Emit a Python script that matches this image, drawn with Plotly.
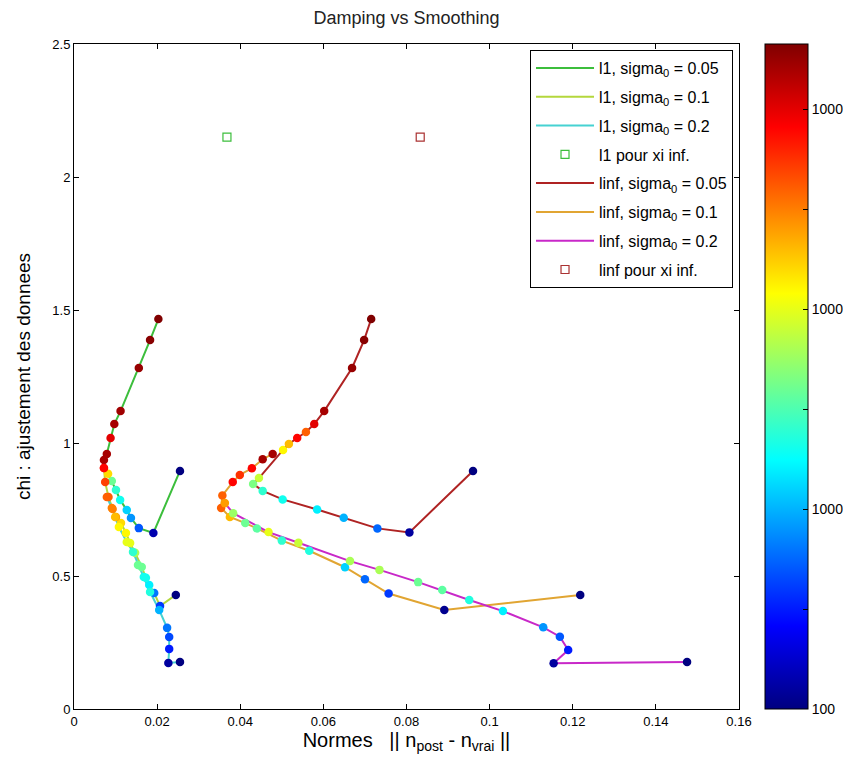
import plotly.graph_objects as go

# ---------------- data ----------------
l1_005_x = [0.0255, 0.0191, 0.0156, 0.0137, 0.0127, 0.0111, 0.0101, 0.0091, 0.0082, 0.0072, 0.0072, 0.0079, 0.0088, 0.0097, 0.0112, 0.0156, 0.0183, 0.0203]
l1_005_y = [0.895, 0.662, 0.680, 0.718, 0.748, 0.786, 0.823, 0.857, 0.884, 0.906, 0.936, 0.959, 1.019, 1.071, 1.120, 1.282, 1.387, 1.466]
l1_005_c = [2.0, 2.15, 2.7, 2.9, 3.1, 3.3, 3.4, 3.6, 4.2, 4.8, 5.2, 5.2, 5.0, 5.2, 5.22, 5.25, 5.3, 5.33]

l1_01_x = [0.0245, 0.0207, 0.0193, 0.0181, 0.0173, 0.0163, 0.0147, 0.0135, 0.0125, 0.0113, 0.0101, 0.0093, 0.0083, 0.0075, 0.0072]
l1_01_y = [0.429, 0.387, 0.436, 0.466, 0.493, 0.534, 0.587, 0.624, 0.662, 0.699, 0.722, 0.752, 0.797, 0.853, 0.906]
l1_01_c = [2.0, 2.6, 2.8, 3.2, 3.3, 3.6, 3.8, 4.0, 4.1, 4.2, 4.4, 4.5, 4.6, 4.7, 4.9]

l1_02_x = [0.0255, 0.0227, 0.0229, 0.0229, 0.0224, 0.0205, 0.0183, 0.0168, 0.0154, 0.0142, 0.0127, 0.0108, 0.0099, 0.0091, 0.0079]
l1_02_y = [0.177, 0.173, 0.226, 0.271, 0.305, 0.372, 0.440, 0.496, 0.541, 0.590, 0.628, 0.684, 0.722, 0.756, 0.797]
l1_02_c = [2.0, 2.1, 2.5, 2.65, 2.8, 3.0, 3.35, 3.3, 3.6, 3.4, 4.0, 4.1, 4.3, 4.5, 4.6]

linf_005_x = [0.0960, 0.0807, 0.0730, 0.0649, 0.0585, 0.0502, 0.0454, 0.0431, 0.0445, 0.0503, 0.0517, 0.0537, 0.0558, 0.0578, 0.0602, 0.0669, 0.0698, 0.0715]
linf_005_y = [0.895, 0.664, 0.679, 0.719, 0.750, 0.788, 0.820, 0.846, 0.868, 0.974, 0.996, 1.019, 1.041, 1.071, 1.120, 1.282, 1.387, 1.466]
linf_005_c = [2.0, 2.1, 2.75, 3.0, 3.2, 3.3, 3.4, 3.65, 3.9, 4.1, 4.3, 4.9, 4.6, 5.0, 5.2, 5.25, 5.3, 5.33]

linf_01_x = [0.1218, 0.0891, 0.0757, 0.0700, 0.0652, 0.0566, 0.0500, 0.0440, 0.0412, 0.0375, 0.0354, 0.0357, 0.0382, 0.0399, 0.0428, 0.0454, 0.0478]
linf_01_y = [0.429, 0.372, 0.434, 0.488, 0.533, 0.595, 0.633, 0.679, 0.699, 0.722, 0.756, 0.803, 0.853, 0.880, 0.905, 0.939, 0.959]
linf_01_c = [2.0, 2.05, 2.6, 2.75, 3.1, 3.35, 3.4, 3.55, 3.6, 4.3, 4.6, 4.6, 4.9, 4.75, 4.9, 5.2, 5.2]

linf_02_x = [0.1475, 0.1154, 0.1189, 0.1169, 0.1129, 0.1032, 0.0951, 0.0886, 0.0828, 0.0735, 0.0664, 0.0540, 0.0468, 0.0383, 0.0363]
linf_02_y = [0.177, 0.172, 0.222, 0.272, 0.307, 0.368, 0.410, 0.447, 0.477, 0.523, 0.556, 0.625, 0.665, 0.736, 0.774]
linf_02_c = [2.0, 2.1, 2.5, 2.7, 2.9, 3.2, 3.35, 3.55, 3.6, 3.8, 3.8, 3.9, 4.0, 3.75, 4.4]

inf_l1_x = [0.0368]
inf_l1_y = [2.15]
inf_linf_x = [0.0833]
inf_linf_y = [2.15]

x_ticks = [0, 0.02, 0.04, 0.06, 0.08, 0.1, 0.12, 0.14, 0.16]
x_ticktext = ["0", "0.02", "0.04", "0.06", "0.08", "0.1", "0.12", "0.14", "0.16"]
y_ticks = [0, 0.5, 1, 1.5, 2, 2.5]
y_ticktext = ["0", "0.5", "1", "1.5", "2", "2.5"]
cb_ticks = [2, 2.5, 3, 3.5, 4, 4.5, 5]
cb_ticktext = ["100", "", "1000", "", "10000", "", "100000"]
c_min, c_max = 2.0, 5.325

# ---------------- styling ----------------
jet = [[0.0, "rgb(0,0,128)"], [0.125, "rgb(0,0,255)"], [0.375, "rgb(0,255,255)"],
       [0.625, "rgb(255,255,0)"], [0.875, "rgb(255,0,0)"], [1.0, "rgb(128,0,0)"]]
FONT = "Liberation Sans, Arial, Helvetica, sans-serif"

series = [
    ("l1, sigma<sub>0</sub> = 0.05", l1_005_x, l1_005_y, l1_005_c, "rgb(60,190,60)"),
    ("l1, sigma<sub>0</sub> = 0.1", l1_01_x, l1_01_y, l1_01_c, "rgb(180,215,60)"),
    ("l1, sigma<sub>0</sub> = 0.2", l1_02_x, l1_02_y, l1_02_c, "rgb(70,210,210)"),
    ("linf, sigma<sub>0</sub> = 0.05", linf_005_x, linf_005_y, linf_005_c, "rgb(175,35,35)"),
    ("linf, sigma<sub>0</sub> = 0.1", linf_01_x, linf_01_y, linf_01_c, "rgb(225,165,50)"),
    ("linf, sigma<sub>0</sub> = 0.2", linf_02_x, linf_02_y, linf_02_c, "rgb(200,40,200)"),
]

fig = go.Figure()

line_traces = []
for k, (name, xs, ys, cs, col) in enumerate(series):
    line_traces.append(go.Scatter(x=xs, y=ys, mode="lines", name=name, legendgroup="g%d" % k,
                                  line=dict(color=col, width=2)))

sq_l1 = go.Scatter(x=inf_l1_x, y=inf_l1_y, mode="markers", name="l1 pour xi inf.", legendgroup="sq1",
                   marker=dict(symbol="square-open", size=8, color="rgb(60,190,60)",
                               line=dict(width=1.2)))
sq_linf = go.Scatter(x=inf_linf_x, y=inf_linf_y, mode="markers", name="linf pour xi inf.", legendgroup="sq2",
                     marker=dict(symbol="square-open", size=8, color="rgb(170,50,50)",
                                 line=dict(width=1.2)))

# legend order
for t in line_traces[:3]:
    fig.add_trace(t)
fig.add_trace(sq_l1)
for t in line_traces[3:]:
    fig.add_trace(t)
fig.add_trace(sq_linf)

# coloured markers on top
for i, (name, xs, ys, cs, col) in enumerate(series):
    fig.add_trace(go.Scatter(
        x=xs, y=ys, mode="markers", showlegend=False, hoverinfo="skip",
        marker=dict(size=8.5, color=cs, colorscale=jet, cmin=c_min, cmax=c_max,
                    line=dict(width=0),
                    showscale=(i == 0),
                    colorbar=dict(x=1.039, xref="paper", xanchor="left", y=0.5, yanchor="middle",
                                  len=1, lenmode="fraction", thickness=43, xpad=0, ypad=0,
                                  outlinecolor="black", outlinewidth=1,
                                  tickvals=cb_ticks, ticktext=cb_ticktext,
                                  ticks="inside", ticklen=5, tickcolor="black",
                                  tickfont=dict(size=14, color="black", family=FONT))),
    ))

axis_common = dict(showgrid=False, zeroline=False, showline=True, linecolor="black", linewidth=1,
                   mirror="ticks", ticks="inside", ticklen=5, tickcolor="black",
                   tickfont=dict(size=13, color="black", family=FONT))

fig.update_layout(
    width=843, height=772,
    margin=dict(l=74, r=104, t=44, b=63, autoexpand=False),
    paper_bgcolor="white", plot_bgcolor="white",
    font=dict(family=FONT, color="black"),
    title=dict(text="Damping vs Smoothing", x=0.5, xref="paper", y=0.977, yanchor="middle",
               font=dict(size=18, color="#222", family=FONT)),
    xaxis=dict(range=[0, 0.16], tickvals=x_ticks, ticktext=x_ticktext,
               title=dict(text="Normes   || n<sub>post</sub> - n<sub>vrai</sub> ||",
                          font=dict(size=20, family=FONT), standoff=5),
               **axis_common),
    yaxis=dict(range=[0, 2.5], tickvals=y_ticks, ticktext=y_ticktext,
               title=dict(text="chi : ajustement des donnees",
                          font=dict(size=19, family=FONT), standoff=16),
               **axis_common),
    legend=dict(x=0.991, xanchor="right", y=0.991, yanchor="top",
                bgcolor="white", bordercolor="black", borderwidth=1,
                font=dict(size=16, family=FONT, color="black"),
                itemwidth=58, traceorder="grouped", tracegroupgap=5),
    showlegend=True,
)

fig.write_html("out.html")
